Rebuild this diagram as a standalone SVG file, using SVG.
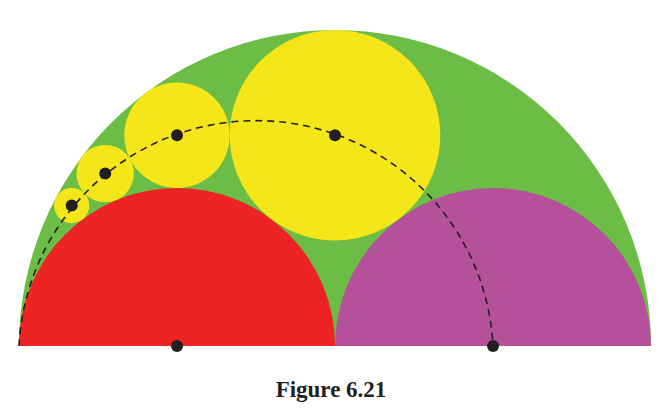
<svg xmlns="http://www.w3.org/2000/svg" width="663" height="420" viewBox="0 0 663 420">
<style>
.y{fill:#f5e61a}
.d{fill:#231f20}
</style>
<rect width="663" height="420" fill="#fff"/>
<g id="outer"><path d="M19,346 A316,316 0 0 1 651,346 Z" fill="#6cbd45"/></g>
<g id="red"><path d="M19,346 A158,158 0 0 1 335,346 Z" fill="#ee2424"/></g>
<g id="purple"><path d="M335,346 A158,158 0 0 1 651,346 Z" fill="#b5519b"/></g>
<g id="c1"><circle class="y" cx="335" cy="135.3" r="105.3"/></g>
<g id="c2"><circle class="y" cx="177" cy="135.3" r="52.7"/></g>
<g id="c3"><circle class="y" cx="105.2" cy="173.6" r="28.7"/></g>
<g id="c4"><circle class="y" cx="71.7" cy="205.6" r="17.6"/></g>
<g id="connectors"><path d="M19,346 A237.3,237.3 0 0 1 493,346" fill="none" stroke="#231f20" stroke-width="1.6" stroke-dasharray="7,5"/></g>
<g id="dots">
<circle class="d" cx="335" cy="135.3" r="6"/>
<circle class="d" cx="177" cy="135.3" r="6"/>
<circle class="d" cx="105.2" cy="173.6" r="6"/>
<circle class="d" cx="71.7" cy="205.6" r="6"/>
<circle class="d" cx="177" cy="346" r="6"/>
<circle class="d" cx="493" cy="346" r="6"/>
</g>
<text x="331" y="397" text-anchor="middle" font-family="Liberation Serif, serif" font-weight="bold" font-size="23" fill="#231f20">Figure 6.21</text>
</svg>
